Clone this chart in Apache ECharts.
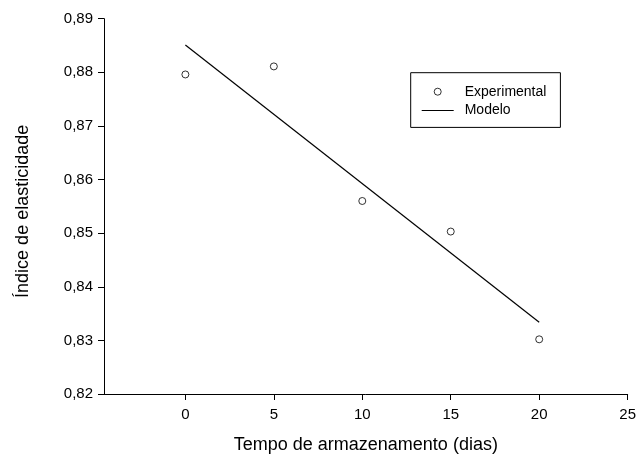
<!DOCTYPE html>
<html>
<head>
<meta charset="utf-8">
<script src="https://cdn.jsdelivr.net/npm/echarts@6/dist/echarts.min.js"></script>
<style>html,body{margin:0;padding:0;background:#fff;}#c{width:639px;height:459px;}</style>
</head>
<body>
<div id="c"></div>
<script>
var days = [0, 5, 10, 15, 20];
var experimental = [0.8796, 0.8811, 0.8560, 0.8503, 0.8302];
var modelDays = [0, 20];
var modelValues = [0.8851, 0.8334];
var xTicks = [0, 5, 10, 15, 20, 25];
var yTicks = [0.82, 0.83, 0.84, 0.85, 0.86, 0.87, 0.88, 0.89];

var font = 'Liberation Sans, Arial, sans-serif';
var chart = echarts.init(document.getElementById('c'), null, {renderer: 'canvas'});
chart.setOption({
  animation: false,
  backgroundColor: '#fff',
  grid: {left: 104, right: 10, top: 18.7, bottom: 63.3, containLabel: false},
  legend: {
    orient: 'vertical',
    left: 410.7, top: 72.7,
    padding: [12, 14, 10, 11],
    borderColor: '#000', borderWidth: 1,
    itemWidth: 32, itemHeight: 7, itemGap: 4.7,
    textStyle: {fontFamily: font, fontSize: 14, color: '#000', lineHeight: 14, padding: [0, 0, 0, 6]},
    data: [
      {name: 'Experimental', icon: 'path://M3,0A3,3 0 1,1 2.99,0Z', itemStyle: {color: '#fff', borderColor: '#000', borderWidth: 1}},
      {name: 'Modelo', icon: 'path://M0,0H32V1H0Z', itemStyle: {color: '#000', borderWidth: 0}}
    ]
  },
  xAxis: {
    type: 'value', min: -4.6, max: 25,
    customValues: xTicks,
    name: 'Tempo de armazenamento (dias)', nameLocation: 'middle', nameGap: 42,
    nameTextStyle: {fontFamily: font, fontSize: 18, color: '#000'},
    axisLine: {show: true, onZero: false, lineStyle: {color: '#000', width: 1}},
    axisTick: {show: true, inside: false, length: 6, lineStyle: {color: '#000'}, customValues: xTicks},
    axisLabel: {fontFamily: font, fontSize: 15, color: '#000', margin: 13, customValues: xTicks, showMinLabel: true, showMaxLabel: true},
    splitLine: {show: false}
  },
  yAxis: {
    type: 'value', min: 0.82, max: 0.89, interval: 0.01,
    name: 'Índice de elasticidade', nameLocation: 'middle', nameGap: 72,
    nameTextStyle: {fontFamily: font, fontSize: 18, color: '#000', padding: [0, 10, 0, 0]},
    axisLine: {show: true, onZero: false, lineStyle: {color: '#000', width: 1}},
    axisTick: {show: true, inside: false, length: 6, lineStyle: {color: '#000'}},
    axisLabel: {fontFamily: font, fontSize: 15, color: '#000', margin: 11,
      formatter: function (v) { return v.toFixed(2).replace('.', ','); }},
    splitLine: {show: false}
  },
  series: [
    {
      name: 'Experimental', type: 'scatter',
      symbol: 'circle', symbolSize: 7,
      itemStyle: {color: '#fff', borderColor: '#000', borderWidth: 1},
      data: days.map(function (d, i) { return [d, experimental[i]]; })
    },
    {
      name: 'Modelo', type: 'line', symbol: 'none', showSymbol: false,
      lineStyle: {color: '#000', width: 1.2},
      itemStyle: {color: '#000'},
      data: modelDays.map(function (d, i) { return [d, modelValues[i]]; })
    }
  ]
});
</script>
</body>
</html>
